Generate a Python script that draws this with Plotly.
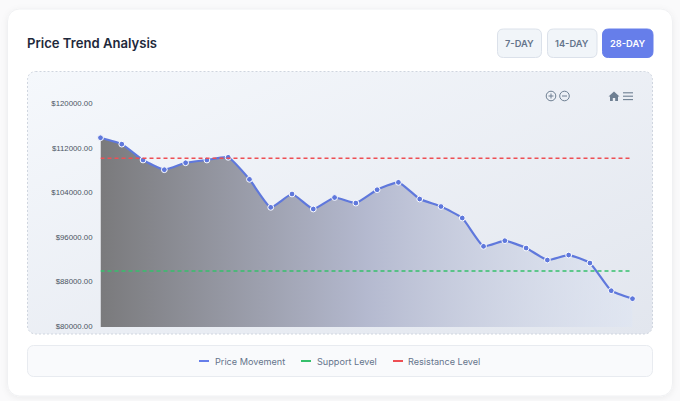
import base64
import plotly.graph_objects as go

W, H = 680, 401

days = list(range(1, 27))
prices = [114050, 112900, 110050, 108300, 109550, 110050, 110530, 106570, 101530, 103930,
          101230, 103300, 102300, 104700, 106030, 103030, 101680, 99610, 94520, 95530,
          94210, 92050, 92950, 91510, 86530, 85090]
support = [90070, 90070]
resistance = [110350, 110350]
line_days = [1, 25.93]
y_ticks = [80000, 88000, 96000, 104000, 112000, 120000]

BLUE = "#667eea"
LINE = "#5f78dc"
GREEN = "#36c06c"
RED = "#ee4f54"
MUTED = "#64748b"


def px(x):
    return x / W


def py(y):
    return 1 - y / H


def rounded(x0, y0, x1, y1, r):
    # rounded box as a paper-coordinate svg path
    pts = [
        f"M{px(x0 + r)},{py(y0)}", f"L{px(x1 - r)},{py(y0)}", f"Q{px(x1)},{py(y0)} {px(x1)},{py(y0 + r)}",
        f"L{px(x1)},{py(y1 - r)}", f"Q{px(x1)},{py(y1)} {px(x1 - r)},{py(y1)}",
        f"L{px(x0 + r)},{py(y1)}", f"Q{px(x0)},{py(y1)} {px(x0)},{py(y1 - r)}",
        f"L{px(x0)},{py(y0 + r)}", f"Q{px(x0)},{py(y0)} {px(x0 + r)},{py(y0)}Z",
    ]
    return " ".join(pts)


# card, shadow and panel gradient go in behind everything
bg_svg = f"""<svg xmlns="http://www.w3.org/2000/svg" width="{W}" height="{H}" viewBox="0 0 {W} {H}">
<defs>
<linearGradient id="g" x1="0" y1="0" x2="1" y2="1">
<stop offset="0" stop-color="#f5f8fc"/><stop offset="1" stop-color="#e2e6ee"/>
</linearGradient>
<filter id="s" x="-5%" y="-5%" width="110%" height="110%"><feDropShadow dx="0" dy="1.5" stdDeviation="3" flood-color="#000" flood-opacity="0.06"/></filter>
</defs>
<rect x="7.5" y="9" width="665" height="387" rx="12" fill="#fff" stroke="#f0f1f3" filter="url(#s)"/>
<rect x="27.5" y="71.5" width="625" height="262.5" rx="8" fill="url(#g)" stroke="#cfd5df" stroke-dasharray="2 2"/>
<rect x="27.5" y="345.5" width="625" height="31" rx="6" fill="#f9fafc" stroke="#e8ebf0"/>
</svg>"""
bg_uri = "data:image/svg+xml;base64," + base64.b64encode(bg_svg.encode()).decode()

fig = go.Figure()

fig.add_trace(go.Scatter(
    x=days, y=prices, mode="lines+markers", name="Price Movement", cliponaxis=False,
    line=dict(color=LINE, width=2.2, shape="spline", smoothing=0.45),
    marker=dict(size=5.8, color=LINE, line=dict(color="#ffffff", width=1)),
    fill="tozeroy",
    fillgradient=dict(type="horizontal", colorscale=[
        [0, "rgba(122,122,124,1)"],
        [0.5, "rgba(180,185,207,1)"],
        [1, "rgba(222,229,243,0.55)"],
    ]),
))
fig.add_trace(go.Scatter(x=line_days, y=support, mode="lines", name="Support Level",
                         line=dict(color=GREEN, width=1.5, dash="4px,3px")))
fig.add_trace(go.Scatter(x=line_days, y=resistance, mode="lines", name="Resistance Level",
                         line=dict(color=RED, width=1.5, dash="4px,3px")))

shapes = []
annotations = []


def label(text, x, y, size, color, weight=400, anchor="center", family="Inter"):
    annotations.append(dict(
        text=text, x=px(x), y=py(y), xref="paper", yref="paper", showarrow=False,
        xanchor=anchor, yanchor="middle", font=dict(family=family, size=size, color=color, weight=weight),
    ))


label("Price Trend Analysis", 24.7, 43.5, 13.1, "#1e293b", 600, "left")

# range buttons
for text, x0, x1, active in [("7-DAY", 497.5, 541.5, False), ("14-DAY", 547.5, 597, False), ("28-DAY", 602.5, 653, True)]:
    shapes.append(dict(type="path", path=rounded(x0, 29, x1, 57.5, 6), xref="paper", yref="paper", layer="below",
                       fillcolor=BLUE if active else "#f1f5f9", line=dict(color=BLUE if active else "#dbe1ea", width=1)))
    label(text, (x0 + x1) / 2, 43.5, 9.3, "#ffffff" if active else MUTED, 600)

# legend row
for text, sx, color, tx in [("Price Movement", 199, BLUE, 212.5), ("Support Level", 301, GREEN, 314.5), ("Resistance Level", 393, RED, 406.3)]:
    shapes.append(dict(type="line", x0=px(sx), x1=px(sx + 10), y0=py(361), y1=py(361), xref="paper", yref="paper",
                       line=dict(color=color, width=2)))
    label(text, tx, 361, 9.15, MUTED, 400, "left")

# toolbar icons
ICON = "#6e7f92"
for cx in (551, 564.5):
    shapes.append(dict(type="circle", x0=px(cx - 4.8), x1=px(cx + 4.8), y0=py(96 + 4.8), y1=py(96 - 4.8),
                       xref="paper", yref="paper", line=dict(color=ICON, width=1)))
    shapes.append(dict(type="line", x0=px(cx - 2.5), x1=px(cx + 2.5), y0=py(96), y1=py(96),
                       xref="paper", yref="paper", line=dict(color=ICON, width=1)))
shapes.append(dict(type="line", x0=px(551), x1=px(551), y0=py(93.5), y1=py(98.5),
                   xref="paper", yref="paper", line=dict(color=ICON, width=1)))
for ly in (92.8, 96.2, 99.6):
    shapes.append(dict(type="line", x0=px(623), x1=px(633), y0=py(ly), y1=py(ly),
                       xref="paper", yref="paper", line=dict(color=ICON, width=1.1)))
home = [(614, 91.5), (619.5, 96.5), (618, 96.5), (618, 101), (615.2, 101), (615.2, 98), (612.8, 98), (612.8, 101),
        (610, 101), (610, 96.5), (608.5, 96.5)]
shapes.append(dict(type="path", path="M" + " L".join(f"{px(a)},{py(b)}" for a, b in home) + " Z",
                   xref="paper", yref="paper", fillcolor=ICON, line=dict(width=0)))

fig.update_layout(
    width=W, height=H, autosize=False,
    margin=dict(l=0, r=0, t=0, b=0, autoexpand=False),
    paper_bgcolor="#fafafb", plot_bgcolor="rgba(0,0,0,0)",
    showlegend=False,
    images=[dict(source=bg_uri, xref="paper", yref="paper", x=0, y=1, sizex=1, sizey=1,
                 xanchor="left", yanchor="top", sizing="stretch", layer="below")],
    shapes=shapes,
    annotations=annotations,
    xaxis=dict(domain=[px(100.5), px(632.5)], range=[1, 26], visible=False, fixedrange=True),
    yaxis=dict(domain=[py(327), py(104.7)], range=[80000, 120000], tickvals=y_ticks, tickformat="$.2f",
               showgrid=False, zeroline=False, showline=False, ticks="", ticklabelshift=-1, ticklabelstandoff=7,
               fixedrange=True, tickfont=dict(family="Liberation Sans", size=7.8, color="#4b5563")),
)

fig.write_html("out.html", config=dict(displayModeBar=False),
               post_script="document.body.style.margin='0';")
